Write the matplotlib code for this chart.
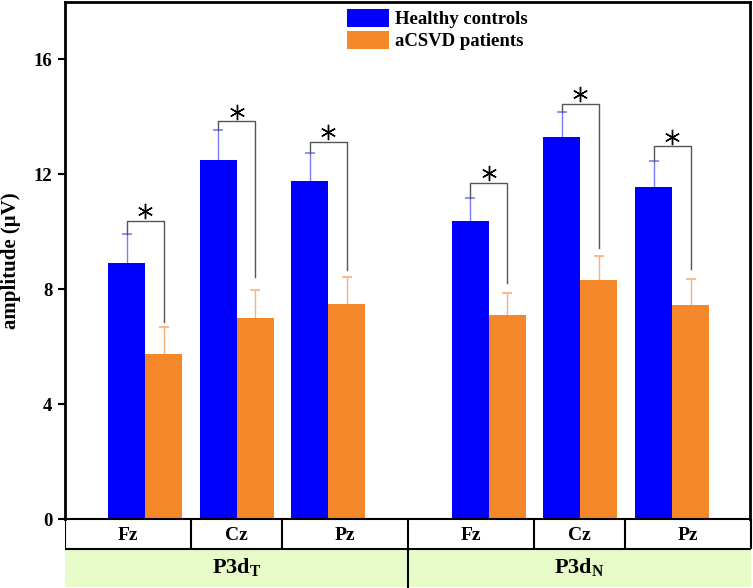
import matplotlib.pyplot as plt
import matplotlib.patches as mpatches
import numpy as np

plt.rcParams['font.family'] = ['Liberation Serif', 'DejaVu Serif']
plt.rcParams['font.weight'] = 'bold'

# данные
electrodes = ['Fz', 'Cz', 'Pz', 'Fz', 'Cz', 'Pz']
components = ['P3d$_\\mathregular{T}$', 'P3d$_\\mathregular{N}$']
healthy = [8.92, 12.51, 11.78, 10.37, 13.30, 11.56]
healthy_err = [1.02, 1.04, 0.97, 0.82, 0.88, 0.90]
patients = [5.73, 7.01, 7.50, 7.10, 8.31, 7.45]
patients_err = [0.96, 0.97, 0.93, 0.77, 0.85, 0.89]
# скобки значимости: высота и нижний конец правой ножки
bracket_top = [10.39, 13.84, 13.14, 11.71, 14.46, 12.97]
bracket_end = [6.86, 8.43, 8.68, 8.20, 9.42, 8.72]
yticks = [0, 4, 8, 12, 16]

blue = '#0000ff'
orange = '#f5872b'

x = np.array([0, 1, 2, 3.75, 4.75, 5.75])
w = 0.404
xb = x - w / 2
xo = x + w / 2

fig = plt.figure(figsize=(7.53, 5.88), dpi=100)
ax = fig.add_axes([65 / 753, 1 - 519 / 588, 685 / 753, 517 / 588])

ax.bar(xb, healthy, w, color=blue, zorder=2, label='Healthy controls')
ax.bar(xo, patients, w, color=orange, zorder=2, label='aCSVD patients')

# планки погрешностей (только вверх)
hb = np.array(healthy) + np.array(healthy_err)
po = np.array(patients) + np.array(patients_err)
ax.vlines(xb, healthy, hb, color='#7b7bff', lw=1, zorder=1)
ax.hlines(hb, xb - 0.055, xb + 0.055, color='#7b7bff', lw=1.2, zorder=3)
ax.vlines(xo, patients, po, color='#f9b07a', lw=1, zorder=1)
ax.hlines(po, xo - 0.055, xo + 0.055, color='#f9b07a', lw=1.2, zorder=3)

# скобки и звёздочки
for i in range(len(x)):
    ax.plot([xb[i], xb[i], xo[i], xo[i]], [hb[i], bracket_top[i], bracket_top[i], bracket_end[i]],
            color='#555555', lw=1, zorder=3)
    ax.plot(x[i], bracket_top[i] + 0.32, marker=(6, 2, 0), ms=11, mew=1.0, color='black', zorder=4)

ax.set_xlim(-0.875, 6.6)
ax.set_ylim(0, 18)
ax.set_yticks(yticks)
ax.set_yticklabels([str(t) for t in yticks], fontsize=13.5, fontweight='bold')
ax.set_xticks([])
ax.tick_params(axis='y', direction='out', length=5, width=1.5, pad=4)
for s in ax.spines.values():
    s.set_linewidth(2)
ax.spines['bottom'].set_linewidth(1.5)
ax.set_ylabel('amplitude (μV)', fontsize=15, fontweight='bold', labelpad=9)

leg = ax.legend(loc='upper left', bbox_to_anchor=(347 / 753, 1 - 9 / 588),
                bbox_transform=fig.transFigure, frameon=False, fontsize=13.5,
                handlelength=2.25, handleheight=1.1, handletextpad=0.3,
                labelspacing=0.12, borderpad=0, borderaxespad=0)
for t in leg.get_texts():
    t.set_fontweight('bold')

# таблица под осью
tab = fig.add_axes([65 / 753, 1 - 588 / 588, 688 / 753, 69 / 588])
tab.set_xlim(-0.875, -0.875 + 688 / 91.5)
tab.set_ylim(0, 69)
tab.axis('off')
right = -0.875 + 686 / 91.5
tab.add_patch(mpatches.Rectangle((-0.875, 1), right + 0.875, 38, color='#e6fbc8', lw=0))
dividers = [0.5, 1.5, 4.25, 5.25]
edges = [-0.875, 0.5, 1.5, 2.875, 4.25, 5.25, right]
tab.vlines([-0.875, right] + dividers, 39, 69, color='black', lw=1.5)
tab.vlines([2.875], 0, 69, color='black', lw=1.5)
tab.hlines(39, -0.875, right, color='black', lw=1.5)
for i, e in enumerate(electrodes):
    tab.text((edges[i] + edges[i + 1]) / 2, 53, e, ha='center', va='center', fontsize=14, fontweight='bold')
tab.text((edges[0] + edges[3]) / 2, 20, components[0], ha='center', va='center', fontsize=16, fontweight='bold')
tab.text((edges[3] + edges[6]) / 2, 20, components[1], ha='center', va='center', fontsize=16, fontweight='bold')

fig.savefig('out.png', dpi=100)
